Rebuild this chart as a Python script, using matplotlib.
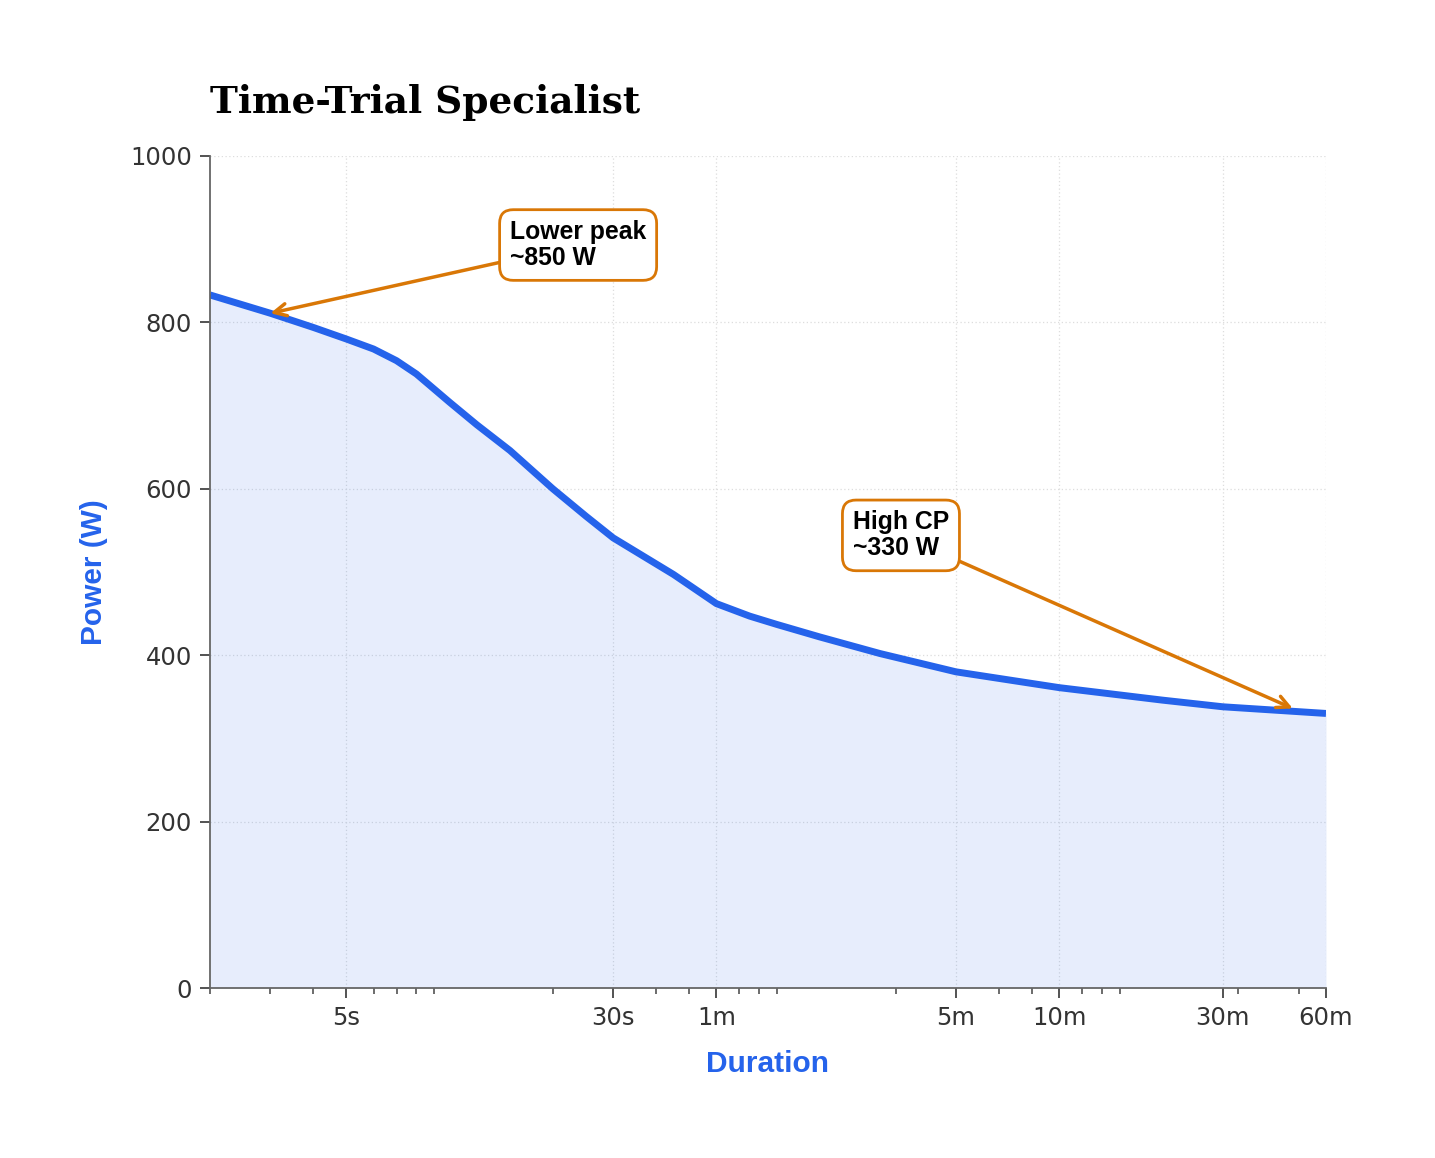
import matplotlib
matplotlib.use("Agg")
import matplotlib.pyplot as plt
from matplotlib.ticker import FixedLocator, LogLocator, NullFormatter

plt.rcParams["font.family"] = ["DejaVu Sans"]

# ---- data ----
durations_s = [2, 3, 4, 5, 6, 7, 8, 10, 12, 15, 20, 25, 30, 45, 60, 75, 90, 120, 180, 300, 600, 1200, 1800, 3600]
power_w = [833, 811, 794, 780, 768, 754, 738, 704, 677, 646, 600, 567, 541, 497, 462, 447, 437, 422, 402, 380, 361, 346, 338, 330]

tick_values = [5, 30, 60, 300, 600, 1800, 3600]
tick_labels = ["5s", "30s", "1m", "5m", "10m", "30m", "60m"]
y_ticks = [0, 200, 400, 600, 800, 1000]

title = "Time-Trial Specialist"
x_label = "Duration"
y_label = "Power (W)"
annot1_text = "Lower peak\n~850 W"
annot1_point = (3, 811)
annot1_text_pos = (15, 893)
annot2_text = "High CP\n~330 W"
annot2_point = (2880, 336)
annot2_text_pos = (150, 544)

BLUE = "#2563EB"
AMBER = "#D97706"
SANS = "Liberation Sans"

fig = plt.figure(figsize=(14.35, 11.58), dpi=100)
ax = fig.add_axes([210/1435, 1-988/1158, (1326-210)/1435, (988-156)/1158])

ax.fill_between(durations_s, power_w, 0, color=BLUE, alpha=0.11, linewidth=0)
ax.plot(durations_s, power_w, color=BLUE, linewidth=5, solid_capstyle="butt", solid_joinstyle="round")

ax.set_xscale("log")
ax.set_xlim(2, 3600)
ax.set_ylim(0, 1000)
ax.xaxis.set_major_locator(FixedLocator(tick_values))
ax.set_xticklabels(tick_labels)
ax.xaxis.set_minor_locator(LogLocator(base=10, subs=[2, 3, 4, 5, 6, 7, 8, 9], numticks=50))
ax.xaxis.set_minor_formatter(NullFormatter())
ax.set_yticks(y_ticks)

for s in ["top", "right"]:
    ax.spines[s].set_visible(False)
for s in ["left", "bottom"]:
    ax.spines[s].set_color("#666666")
    ax.spines[s].set_linewidth(1.3)

ax.tick_params(axis="both", which="major", length=7, width=1.3, color="#444444",
               labelsize=17.5, labelcolor="#333333", pad=6)
ax.tick_params(axis="x", which="minor", length=4, width=1.1, color="#444444")

ax.grid(True, which="major", axis="both", linestyle=(0, (1, 2)), color="#dddddd", linewidth=0.9)
ax.set_axisbelow(True)

ax.set_xlabel(x_label, fontsize=21.5, fontweight="bold", color=BLUE, family=SANS, labelpad=14)
ax.set_ylabel(y_label, fontsize=21.5, fontweight="bold", color=BLUE, family=SANS, labelpad=16)

fig.text(210/1435, 1-113/1158, title, fontsize=27, fontweight="bold", family="DejaVu Serif",
         ha="left", va="baseline", color="black")

box = dict(boxstyle="round,pad=0.42,rounding_size=0.55", fc="white", ec=AMBER, lw=2)
arrow = dict(arrowstyle="->", color=AMBER, lw=2.5, mutation_scale=22, shrinkA=0, shrinkB=0)
for txt, pt, pos in [(annot1_text, annot1_point, annot1_text_pos),
                     (annot2_text, annot2_point, annot2_text_pos)]:
    ax.annotate(txt, xy=pt, xytext=pos, textcoords="data", ha="left", va="center",
                fontsize=17.8, fontweight="bold", family=SANS, linespacing=1.1,
                bbox=box, arrowprops=arrow, color="black")

fig.savefig("out.png", dpi=100, facecolor="white")
